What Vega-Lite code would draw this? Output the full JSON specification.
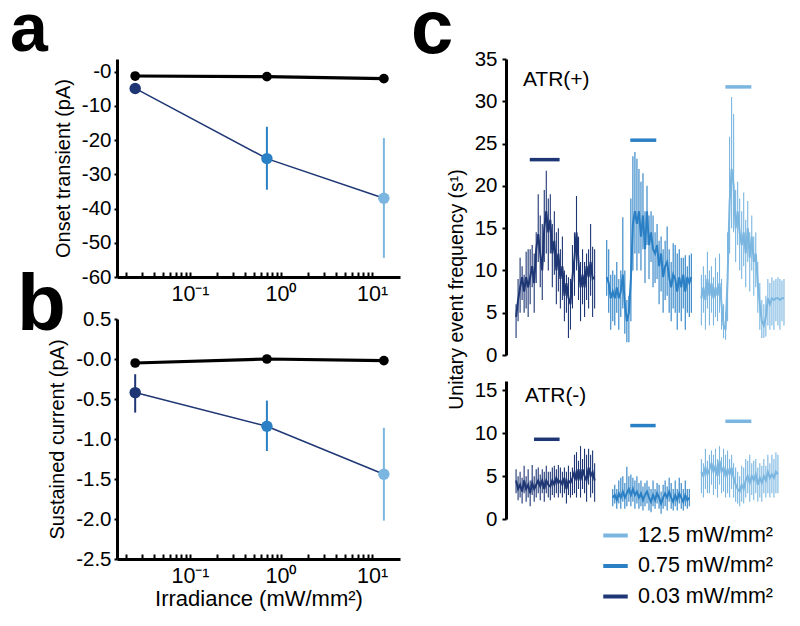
{
"$schema": "https://vega.github.io/schema/vega-lite/v6.json",
"padding": {"left": 10, "top": -8, "right": 5, "bottom": 5},
"background": "white",
"config": {
  "font": "Liberation Sans",
  "view": {"stroke": null},
  "axis": {"domainColor": "black", "domainWidth": 3, "tickColor": "black", "tickWidth": 2, "tickSize": 3, "labelFontSize": 20.5, "labelColor": "black", "titleFontSize": 20, "titleColor": "black", "titleFontWeight": "normal", "grid": false, "labelFont": "Liberation Sans", "titleFont": "Liberation Sans", "labelOverlap": false},
  "title": {"font": "Liberation Sans", "fontWeight": "bold", "anchor": "start", "frame": "group", "baseline": "alphabetic", "offset": 0, "color": "black"}
},
"datasets": {
  "ab": [
    {"p": "a", "g": "ctrl", "c": "ctrl", "irr": 0.025, "m": -1.27},
    {"p": "a", "g": "ctrl", "c": "ctrl", "irr": 0.7, "m": -1.46},
    {"p": "a", "g": "ctrl", "c": "ctrl", "irr": 13.5, "m": -2.05},
    {"p": "a", "g": "atr", "c": "0.03", "irr": 0.025, "m": -4.9, "lo": -5.5, "hi": -4.3},
    {"p": "a", "g": "atr", "c": "0.75", "irr": 0.7, "m": -25.4, "lo": -34.5, "hi": -16.1},
    {"p": "a", "g": "atr", "c": "12.5", "irr": 13.5, "m": -37.0, "lo": -54.4, "hi": -19.4},
    {"p": "b", "g": "ctrl", "c": "ctrl", "irr": 0.025, "m": -0.05},
    {"p": "b", "g": "ctrl", "c": "ctrl", "irr": 0.7, "m": 0.0},
    {"p": "b", "g": "ctrl", "c": "ctrl", "irr": 13.5, "m": -0.02},
    {"p": "b", "g": "atr", "c": "0.03", "irr": 0.025, "m": -0.42, "lo": -0.67, "hi": -0.19},
    {"p": "b", "g": "atr", "c": "0.75", "irr": 0.7, "m": -0.84, "lo": -1.15, "hi": -0.52},
    {"p": "b", "g": "atr", "c": "12.5", "irr": 13.5, "m": -1.44, "lo": -2.02, "hi": -0.86}
  ],
  "trace": [
    {"a":"p","c":"0.03","t":5,"m":4.5,"lo":2,"hi":6},
    {"a":"p","c":"0.03","t":6,"m":6.5,"lo":4,"hi":9},
    {"a":"p","c":"0.03","t":7,"m":8.0,"lo":5,"hi":11.5},
    {"a":"p","c":"0.03","t":8,"m":9.2,"lo":6.5,"hi":10.5},
    {"a":"p","c":"0.03","t":9,"m":7.5,"lo":5,"hi":9.5},
    {"a":"p","c":"0.03","t":10,"m":9.2,"lo":5.5,"hi":12.2},
    {"a":"p","c":"0.03","t":11,"m":8.0,"lo":4.5,"hi":12.5},
    {"a":"p","c":"0.03","t":12,"m":9.2,"lo":6,"hi":12.5},
    {"a":"p","c":"0.03","t":13,"m":10.5,"lo":8,"hi":13},
    {"a":"p","c":"0.03","t":14,"m":8.5,"lo":5,"hi":12},
    {"a":"p","c":"0.03","t":15,"m":12.5,"lo":8.5,"hi":14.5},
    {"a":"p","c":"0.03","t":16,"m":14.3,"lo":11,"hi":19},
    {"a":"p","c":"0.03","t":17,"m":12.0,"lo":8,"hi":16.5},
    {"a":"p","c":"0.03","t":18,"m":10.0,"lo":6.5,"hi":15.5},
    {"a":"p","c":"0.03","t":19,"m":15.0,"lo":11,"hi":19.5},
    {"a":"p","c":"0.03","t":20,"m":17.0,"lo":12,"hi":21.8},
    {"a":"p","c":"0.03","t":21,"m":14.5,"lo":10,"hi":18.5},
    {"a":"p","c":"0.03","t":22,"m":16.0,"lo":12,"hi":19},
    {"a":"p","c":"0.03","t":23,"m":12.0,"lo":8,"hi":15.5},
    {"a":"p","c":"0.03","t":24,"m":13.5,"lo":9.5,"hi":17},
    {"a":"p","c":"0.03","t":25,"m":10.0,"lo":6,"hi":14.5},
    {"a":"p","c":"0.03","t":26,"m":12.0,"lo":7.5,"hi":15},
    {"a":"p","c":"0.03","t":27,"m":9.0,"lo":5.5,"hi":12.5},
    {"a":"p","c":"0.03","t":28,"m":10.5,"lo":6.5,"hi":14},
    {"a":"p","c":"0.03","t":29,"m":7.0,"lo":4,"hi":10},
    {"a":"p","c":"0.03","t":30,"m":8.5,"lo":5,"hi":9.5},
    {"a":"p","c":"0.03","t":31,"m":6.8,"lo":2,"hi":9.2},
    {"a":"p","c":"0.03","t":32,"m":6.0,"lo":3,"hi":9},
    {"a":"p","c":"0.03","t":33,"m":9.2,"lo":5.5,"hi":13},
    {"a":"p","c":"0.03","t":34,"m":11.5,"lo":7,"hi":14.5},
    {"a":"p","c":"0.03","t":35,"m":14.5,"lo":10,"hi":18.8},
    {"a":"p","c":"0.03","t":36,"m":11.0,"lo":6.5,"hi":14},
    {"a":"p","c":"0.03","t":37,"m":8.0,"lo":4,"hi":11},
    {"a":"p","c":"0.03","t":38,"m":9.5,"lo":6,"hi":12.5},
    {"a":"p","c":"0.03","t":39,"m":8.0,"lo":4.5,"hi":11},
    {"a":"p","c":"0.03","t":40,"m":10.5,"lo":6.5,"hi":12},
    {"a":"p","c":"0.03","t":41,"m":9.2,"lo":5.5,"hi":12.5},
    {"a":"p","c":"0.03","t":42,"m":11.0,"lo":7,"hi":15.5},
    {"a":"p","c":"0.03","t":43,"m":9.0,"lo":4.5,"hi":12.8},
    {"a":"p","c":"0.03","t":44,"m":9.2,"lo":5.5,"hi":12.5},
    {"a":"p","c":"0.75","t":50,"m":9.2,"lo":7,"hi":13.6},
    {"a":"p","c":"0.75","t":51,"m":8.5,"lo":5,"hi":12.5},
    {"a":"p","c":"0.75","t":52,"m":6.7,"lo":3,"hi":9.5},
    {"a":"p","c":"0.75","t":53,"m":7.5,"lo":4,"hi":10},
    {"a":"p","c":"0.75","t":54,"m":6.7,"lo":3.5,"hi":9.5},
    {"a":"p","c":"0.75","t":55,"m":8.0,"lo":5,"hi":11},
    {"a":"p","c":"0.75","t":56,"m":6.7,"lo":3,"hi":9},
    {"a":"p","c":"0.75","t":57,"m":7.5,"lo":4.5,"hi":10},
    {"a":"p","c":"0.75","t":58,"m":9.5,"lo":5.5,"hi":16.3},
    {"a":"p","c":"0.75","t":59,"m":6.0,"lo":2.5,"hi":10},
    {"a":"p","c":"0.75","t":60,"m":4.0,"lo":1.5,"hi":6.5},
    {"a":"p","c":"0.75","t":61,"m":5.0,"lo":1.5,"hi":7},
    {"a":"p","c":"0.75","t":62,"m":9.0,"lo":4,"hi":18.5},
    {"a":"p","c":"0.75","t":63,"m":15.5,"lo":10,"hi":23.5},
    {"a":"p","c":"0.75","t":64,"m":17.0,"lo":12,"hi":24},
    {"a":"p","c":"0.75","t":65,"m":15.5,"lo":10,"hi":23.2},
    {"a":"p","c":"0.75","t":66,"m":17.0,"lo":12,"hi":22},
    {"a":"p","c":"0.75","t":67,"m":14.0,"lo":10,"hi":20.5},
    {"a":"p","c":"0.75","t":68,"m":16.5,"lo":12.5,"hi":21.5},
    {"a":"p","c":"0.75","t":69,"m":12.5,"lo":8.5,"hi":17},
    {"a":"p","c":"0.75","t":70,"m":17.0,"lo":13,"hi":20},
    {"a":"p","c":"0.75","t":71,"m":13.0,"lo":9,"hi":16.5},
    {"a":"p","c":"0.75","t":72,"m":14.5,"lo":11,"hi":17},
    {"a":"p","c":"0.75","t":73,"m":12.5,"lo":8,"hi":16.5},
    {"a":"p","c":"0.75","t":74,"m":12.0,"lo":8.5,"hi":14.5},
    {"a":"p","c":"0.75","t":75,"m":13.0,"lo":9,"hi":15.5},
    {"a":"p","c":"0.75","t":76,"m":10.5,"lo":6,"hi":13.5},
    {"a":"p","c":"0.75","t":77,"m":12.0,"lo":7.5,"hi":14},
    {"a":"p","c":"0.75","t":78,"m":9.2,"lo":5,"hi":12.5},
    {"a":"p","c":"0.75","t":79,"m":10.5,"lo":6.5,"hi":13.5},
    {"a":"p","c":"0.75","t":80,"m":11.0,"lo":7,"hi":15.2},
    {"a":"p","c":"0.75","t":81,"m":9.2,"lo":5,"hi":12.5},
    {"a":"p","c":"0.75","t":82,"m":8.0,"lo":4,"hi":11},
    {"a":"p","c":"0.75","t":83,"m":9.5,"lo":5.5,"hi":13.2},
    {"a":"p","c":"0.75","t":84,"m":9.0,"lo":5,"hi":13},
    {"a":"p","c":"0.75","t":85,"m":7.5,"lo":3,"hi":12},
    {"a":"p","c":"0.75","t":86,"m":9.2,"lo":5,"hi":12.5},
    {"a":"p","c":"0.75","t":87,"m":8.0,"lo":4,"hi":11.5},
    {"a":"p","c":"0.75","t":88,"m":9.5,"lo":5.5,"hi":11.5},
    {"a":"p","c":"0.75","t":89,"m":7.5,"lo":3,"hi":11.8},
    {"a":"p","c":"0.75","t":90,"m":9.2,"lo":5,"hi":10.5},
    {"a":"p","c":"0.75","t":91,"m":8.5,"lo":4.5,"hi":11.8},
    {"a":"p","c":"0.75","t":92,"m":9.2,"lo":5,"hi":12},
    {"a":"p","c":"12.5","t":97,"m":6.7,"lo":3.5,"hi":9.5},
    {"a":"p","c":"12.5","t":98,"m":8.0,"lo":5,"hi":10.5},
    {"a":"p","c":"12.5","t":99,"m":6.5,"lo":3,"hi":9.5},
    {"a":"p","c":"12.5","t":100,"m":9.0,"lo":5.5,"hi":12.2},
    {"a":"p","c":"12.5","t":101,"m":7.0,"lo":3.5,"hi":10},
    {"a":"p","c":"12.5","t":102,"m":8.5,"lo":5,"hi":10.5},
    {"a":"p","c":"12.5","t":103,"m":6.7,"lo":3.5,"hi":9.2},
    {"a":"p","c":"12.5","t":104,"m":8.0,"lo":4.5,"hi":11.5},
    {"a":"p","c":"12.5","t":105,"m":7.0,"lo":4,"hi":9.8},
    {"a":"p","c":"12.5","t":106,"m":8.5,"lo":5,"hi":12},
    {"a":"p","c":"12.5","t":107,"m":6.0,"lo":3,"hi":9},
    {"a":"p","c":"12.5","t":108,"m":3.5,"lo":2,"hi":6},
    {"a":"p","c":"12.5","t":109,"m":3.0,"lo":1.8,"hi":5},
    {"a":"p","c":"12.5","t":110,"m":9.0,"lo":4,"hi":14.5},
    {"a":"p","c":"12.5","t":111,"m":18.0,"lo":12,"hi":25.8},
    {"a":"p","c":"12.5","t":112,"m":22.0,"lo":15,"hi":30.5},
    {"a":"p","c":"12.5","t":113,"m":20.0,"lo":14.5,"hi":28.5},
    {"a":"p","c":"12.5","t":114,"m":15.0,"lo":11,"hi":19.5},
    {"a":"p","c":"12.5","t":115,"m":17.0,"lo":13,"hi":20.5},
    {"a":"p","c":"12.5","t":116,"m":14.5,"lo":10,"hi":18.5},
    {"a":"p","c":"12.5","t":117,"m":13.0,"lo":9,"hi":17},
    {"a":"p","c":"12.5","t":118,"m":14.5,"lo":10.5,"hi":19.2},
    {"a":"p","c":"12.5","t":119,"m":12.0,"lo":8,"hi":16},
    {"a":"p","c":"12.5","t":120,"m":15.0,"lo":11,"hi":18.2},
    {"a":"p","c":"12.5","t":121,"m":11.5,"lo":7.5,"hi":14.5},
    {"a":"p","c":"12.5","t":122,"m":14.0,"lo":10,"hi":16.5},
    {"a":"p","c":"12.5","t":123,"m":11.0,"lo":7,"hi":14},
    {"a":"p","c":"12.5","t":124,"m":12.0,"lo":8,"hi":14.5},
    {"a":"p","c":"12.5","t":125,"m":8.5,"lo":5,"hi":11},
    {"a":"p","c":"12.5","t":126,"m":6.0,"lo":3,"hi":8.5},
    {"a":"p","c":"12.5","t":127,"m":4.0,"lo":2,"hi":6.5},
    {"a":"p","c":"12.5","t":128,"m":3.5,"lo":2,"hi":6},
    {"a":"p","c":"12.5","t":129,"m":4.5,"lo":2.2,"hi":7},
    {"a":"p","c":"12.5","t":130,"m":6.7,"lo":3.5,"hi":9},
    {"a":"p","c":"12.5","t":131,"m":6.0,"lo":3,"hi":8.5},
    {"a":"p","c":"12.5","t":132,"m":6.7,"lo":3.5,"hi":9.2},
    {"a":"p","c":"12.5","t":133,"m":6.5,"lo":3,"hi":8.8},
    {"a":"p","c":"12.5","t":134,"m":6.7,"lo":4,"hi":9},
    {"a":"p","c":"12.5","t":135,"m":6.7,"lo":3.5,"hi":9.2},
    {"a":"p","c":"12.5","t":136,"m":6.5,"lo":3,"hi":9},
    {"a":"p","c":"12.5","t":137,"m":6.7,"lo":4,"hi":8.8},
    {"a":"p","c":"12.5","t":138,"m":6.7,"lo":3.5,"hi":9},
    {"a":"m","c":"0.03","t":5,"m":4.5,"lo":3,"hi":5.8},
    {"a":"m","c":"0.03","t":6,"m":3.5,"lo":2.2,"hi":5},
    {"a":"m","c":"0.03","t":7,"m":4.0,"lo":2.5,"hi":5.5},
    {"a":"m","c":"0.03","t":8,"m":3.2,"lo":1.8,"hi":4.8},
    {"a":"m","c":"0.03","t":9,"m":4.5,"lo":3,"hi":6.2},
    {"a":"m","c":"0.03","t":10,"m":3.5,"lo":2,"hi":5},
    {"a":"m","c":"0.03","t":11,"m":4.0,"lo":2.5,"hi":5.8},
    {"a":"m","c":"0.03","t":12,"m":3.0,"lo":1.5,"hi":4.5},
    {"a":"m","c":"0.03","t":13,"m":4.2,"lo":2.8,"hi":6.3},
    {"a":"m","c":"0.03","t":14,"m":3.5,"lo":2,"hi":5},
    {"a":"m","c":"0.03","t":15,"m":4.0,"lo":2.5,"hi":5.8},
    {"a":"m","c":"0.03","t":16,"m":4.5,"lo":3,"hi":6},
    {"a":"m","c":"0.03","t":17,"m":3.8,"lo":2.2,"hi":5.2},
    {"a":"m","c":"0.03","t":18,"m":4.5,"lo":3,"hi":5.8},
    {"a":"m","c":"0.03","t":19,"m":3.5,"lo":2,"hi":5.5},
    {"a":"m","c":"0.03","t":20,"m":4.5,"lo":3,"hi":6.2},
    {"a":"m","c":"0.03","t":21,"m":4.0,"lo":2.5,"hi":5.5},
    {"a":"m","c":"0.03","t":22,"m":3.8,"lo":2.2,"hi":5.5},
    {"a":"m","c":"0.03","t":23,"m":4.5,"lo":2.8,"hi":6},
    {"a":"m","c":"0.03","t":24,"m":4.0,"lo":2.5,"hi":6.2},
    {"a":"m","c":"0.03","t":25,"m":4.8,"lo":3,"hi":5.8},
    {"a":"m","c":"0.03","t":26,"m":4.2,"lo":2.5,"hi":6.3},
    {"a":"m","c":"0.03","t":27,"m":4.5,"lo":3,"hi":6},
    {"a":"m","c":"0.03","t":28,"m":4.0,"lo":2.5,"hi":5.5},
    {"a":"m","c":"0.03","t":29,"m":4.8,"lo":3,"hi":6},
    {"a":"m","c":"0.03","t":30,"m":3.5,"lo":1.8,"hi":5.5},
    {"a":"m","c":"0.03","t":31,"m":4.5,"lo":2.8,"hi":6.2},
    {"a":"m","c":"0.03","t":32,"m":4.2,"lo":2.5,"hi":5.5},
    {"a":"m","c":"0.03","t":33,"m":4.8,"lo":2.8,"hi":6},
    {"a":"m","c":"0.03","t":34,"m":5.5,"lo":3,"hi":7.5},
    {"a":"m","c":"0.03","t":35,"m":4.5,"lo":2.5,"hi":7.8},
    {"a":"m","c":"0.03","t":36,"m":5.8,"lo":3.5,"hi":6.8},
    {"a":"m","c":"0.03","t":37,"m":4.5,"lo":2.5,"hi":8.5},
    {"a":"m","c":"0.03","t":38,"m":5.8,"lo":3.5,"hi":7},
    {"a":"m","c":"0.03","t":39,"m":5.0,"lo":3,"hi":8.2},
    {"a":"m","c":"0.03","t":40,"m":4.5,"lo":2,"hi":7.5},
    {"a":"m","c":"0.03","t":41,"m":6.0,"lo":4,"hi":8.2},
    {"a":"m","c":"0.03","t":42,"m":5.0,"lo":2.5,"hi":7.5},
    {"a":"m","c":"0.03","t":43,"m":5.5,"lo":3,"hi":8},
    {"a":"m","c":"0.03","t":44,"m":4.5,"lo":2,"hi":6.5},
    {"a":"m","c":"0.75","t":53,"m":2.5,"lo":1.5,"hi":3.5},
    {"a":"m","c":"0.75","t":54,"m":2.8,"lo":1.8,"hi":4},
    {"a":"m","c":"0.75","t":55,"m":2.2,"lo":1.2,"hi":3.5},
    {"a":"m","c":"0.75","t":56,"m":3.0,"lo":1.8,"hi":4.5},
    {"a":"m","c":"0.75","t":57,"m":2.5,"lo":1.2,"hi":4.8},
    {"a":"m","c":"0.75","t":58,"m":3.2,"lo":2,"hi":5},
    {"a":"m","c":"0.75","t":59,"m":2.5,"lo":1.2,"hi":4.2},
    {"a":"m","c":"0.75","t":60,"m":3.0,"lo":1.5,"hi":6.1},
    {"a":"m","c":"0.75","t":61,"m":3.5,"lo":2,"hi":5},
    {"a":"m","c":"0.75","t":62,"m":2.8,"lo":1.5,"hi":5.2},
    {"a":"m","c":"0.75","t":63,"m":3.5,"lo":2,"hi":4.8},
    {"a":"m","c":"0.75","t":64,"m":2.8,"lo":1.2,"hi":4.5},
    {"a":"m","c":"0.75","t":65,"m":3.2,"lo":1.8,"hi":5},
    {"a":"m","c":"0.75","t":66,"m":2.5,"lo":1.2,"hi":4.2},
    {"a":"m","c":"0.75","t":67,"m":3.0,"lo":1.5,"hi":4.5},
    {"a":"m","c":"0.75","t":68,"m":2.2,"lo":1,"hi":3.8},
    {"a":"m","c":"0.75","t":69,"m":2.8,"lo":1.5,"hi":4.2},
    {"a":"m","c":"0.75","t":70,"m":3.2,"lo":1.8,"hi":4.5},
    {"a":"m","c":"0.75","t":71,"m":2.5,"lo":1,"hi":3.8},
    {"a":"m","c":"0.75","t":72,"m":2.0,"lo":0.8,"hi":3.5},
    {"a":"m","c":"0.75","t":73,"m":2.8,"lo":1.5,"hi":4.5},
    {"a":"m","c":"0.75","t":74,"m":2.2,"lo":1.2,"hi":3.5},
    {"a":"m","c":"0.75","t":75,"m":3.0,"lo":1.8,"hi":4.2},
    {"a":"m","c":"0.75","t":76,"m":2.5,"lo":1.2,"hi":4.0},
    {"a":"m","c":"0.75","t":77,"m":1.8,"lo":0.6,"hi":3.2},
    {"a":"m","c":"0.75","t":78,"m":2.5,"lo":1.2,"hi":4},
    {"a":"m","c":"0.75","t":79,"m":3.0,"lo":1.5,"hi":4.5},
    {"a":"m","c":"0.75","t":80,"m":2.5,"lo":1,"hi":3.8},
    {"a":"m","c":"0.75","t":81,"m":3.2,"lo":2,"hi":4.8},
    {"a":"m","c":"0.75","t":82,"m":2.5,"lo":1.2,"hi":4.2},
    {"a":"m","c":"0.75","t":83,"m":2.0,"lo":1,"hi":3.5},
    {"a":"m","c":"0.75","t":84,"m":2.8,"lo":1.5,"hi":4.5},
    {"a":"m","c":"0.75","t":85,"m":2.2,"lo":1,"hi":3.5},
    {"a":"m","c":"0.75","t":86,"m":3.0,"lo":1.8,"hi":4.8},
    {"a":"m","c":"0.75","t":87,"m":2.5,"lo":1.2,"hi":4.2},
    {"a":"m","c":"0.75","t":88,"m":2.0,"lo":1,"hi":3.5},
    {"a":"m","c":"0.75","t":89,"m":2.8,"lo":1.5,"hi":4.5},
    {"a":"m","c":"0.75","t":90,"m":2.2,"lo":1.2,"hi":3.5},
    {"a":"m","c":"0.75","t":91,"m":2.5,"lo":1.5,"hi":3.5},
    {"a":"m","c":"12.5","t":97,"m":5.5,"lo":3,"hi":7},
    {"a":"m","c":"12.5","t":98,"m":5.0,"lo":2.5,"hi":6.5},
    {"a":"m","c":"12.5","t":99,"m":6.0,"lo":3.5,"hi":8.2},
    {"a":"m","c":"12.5","t":100,"m":5.2,"lo":3,"hi":6.8},
    {"a":"m","c":"12.5","t":101,"m":5.8,"lo":3,"hi":7.5},
    {"a":"m","c":"12.5","t":102,"m":6.5,"lo":4,"hi":8},
    {"a":"m","c":"12.5","t":103,"m":5.5,"lo":2.8,"hi":7.5},
    {"a":"m","c":"12.5","t":104,"m":6.2,"lo":3.5,"hi":8.2},
    {"a":"m","c":"12.5","t":105,"m":5.0,"lo":2.5,"hi":7},
    {"a":"m","c":"12.5","t":106,"m":6.8,"lo":4,"hi":8.5},
    {"a":"m","c":"12.5","t":107,"m":5.5,"lo":3,"hi":7.2},
    {"a":"m","c":"12.5","t":108,"m":6.0,"lo":3.2,"hi":8.2},
    {"a":"m","c":"12.5","t":109,"m":5.0,"lo":2.5,"hi":7.5},
    {"a":"m","c":"12.5","t":110,"m":5.8,"lo":3,"hi":8},
    {"a":"m","c":"12.5","t":111,"m":5.2,"lo":2.5,"hi":7},
    {"a":"m","c":"12.5","t":112,"m":6.0,"lo":3.5,"hi":7.5},
    {"a":"m","c":"12.5","t":113,"m":4.8,"lo":2.5,"hi":6.5},
    {"a":"m","c":"12.5","t":114,"m":4.0,"lo":2,"hi":6},
    {"a":"m","c":"12.5","t":115,"m":3.5,"lo":1.8,"hi":5.5},
    {"a":"m","c":"12.5","t":116,"m":3.2,"lo":1.5,"hi":5},
    {"a":"m","c":"12.5","t":117,"m":4.0,"lo":2,"hi":6.2},
    {"a":"m","c":"12.5","t":118,"m":3.5,"lo":1.8,"hi":6},
    {"a":"m","c":"12.5","t":119,"m":4.5,"lo":2.5,"hi":7},
    {"a":"m","c":"12.5","t":120,"m":5.0,"lo":3,"hi":6.8},
    {"a":"m","c":"12.5","t":121,"m":4.2,"lo":2,"hi":7.5},
    {"a":"m","c":"12.5","t":122,"m":5.0,"lo":2.8,"hi":6.5},
    {"a":"m","c":"12.5","t":123,"m":4.5,"lo":2.2,"hi":6.8},
    {"a":"m","c":"12.5","t":124,"m":5.2,"lo":3,"hi":7},
    {"a":"m","c":"12.5","t":125,"m":4.0,"lo":2,"hi":6},
    {"a":"m","c":"12.5","t":126,"m":4.8,"lo":2.5,"hi":6.5},
    {"a":"m","c":"12.5","t":127,"m":4.2,"lo":2,"hi":6.2},
    {"a":"m","c":"12.5","t":128,"m":5.0,"lo":3,"hi":7},
    {"a":"m","c":"12.5","t":129,"m":4.5,"lo":2.5,"hi":6.2},
    {"a":"m","c":"12.5","t":130,"m":5.5,"lo":3,"hi":7.5},
    {"a":"m","c":"12.5","t":131,"m":4.8,"lo":2.5,"hi":6.5},
    {"a":"m","c":"12.5","t":132,"m":5.2,"lo":3,"hi":7.5},
    {"a":"m","c":"12.5","t":133,"m":4.8,"lo":2.5,"hi":7},
    {"a":"m","c":"12.5","t":134,"m":5.5,"lo":3,"hi":7.8},
    {"a":"m","c":"12.5","t":135,"m":5.2,"lo":3,"hi":7.5}
  ],
  "stim": [
    {"a":"p","c":"0.03","x1":11.8,"x2":26.6,"y":23.1},
    {"a":"p","c":"0.75","x1":61.7,"x2":74.6,"y":25.4},
    {"a":"p","c":"12.5","x1":108.9,"x2":121.8,"y":31.7},
    {"a":"m","c":"0.03","x1":13.9,"x2":26.6,"y":9.3},
    {"a":"m","c":"0.75","x1":61.7,"x2":74.3,"y":10.9},
    {"a":"m","c":"12.5","x1":108.9,"x2":121.8,"y":11.4}
  ],
  "labs": [
    {"a":"p","t":8.4,"y":31.8,"txt":"ATR(+)"},
    {"a":"m","t":9.4,"y":13.6,"txt":"ATR(-)"}
  ]
},
"hconcat": [
  {
    "vconcat": [
      {
        "width": 283, "height": 218,
        "title": {"text": "a", "fontSize": 68, "dx": -107, "dy": 9.5},
        "data": {"name": "ab"},
        "transform": [{"filter": "datum.p == 'a'"}],
        "encoding": {
          "x": {"field": "irr", "type": "quantitative", "scale": {"type": "log", "domain": [0.01578, 20.3], "nice": false},
                "axis": {"values": [0.02,0.03,0.04,0.05,0.06,0.07,0.08,0.09,0.1,0.2,0.3,0.4,0.5,0.6,0.7,0.8,0.9,1,2,3,4,5,6,7,8,9,10], "tickCount": 40,
                         "labelExpr": "datum.value == 0.1 ? '10⁻¹' : datum.value == 1 ? '10⁰' : datum.value == 10 ? '10¹' : ''",
                         "tickSize": -5, "labelPadding": 11, "labelFontSize": 21.5, "labelOverlap": false, "labelFlush": false, "labelBound": false, "title": null}},
          "color": {"field": "c", "type": "nominal", "scale": {"domain": ["ctrl","0.03","0.75","12.5"], "range": ["black","#1e3674","#2b80c5","#7ab6e0"]}, "legend": null}
        },
        "layer": [
          {"transform": [{"filter": "datum.g == 'ctrl'"}], "mark": {"type": "line", "strokeWidth": 3.2},
           "encoding": {"color": {"value": "black"}, "y": {"field": "m", "type": "quantitative", "scale": {"domain": [-60, 3.7], "nice": false, "zero": false},
             "axis": {"values": [0,-10,-20,-30,-40,-50,-60], "tickCount": 20, "labelExpr": "datum.value == 0 ? '-0' : '' + datum.value", "labelOverlap": false, "labelBound": false, "title": "Onset transient (pA)", "labelPadding": 3, "titlePadding": 8}}}},
          {"transform": [{"filter": "datum.g == 'atr'"}], "mark": {"type": "line", "strokeWidth": 1.5},
           "encoding": {"color": {"value": "#1e3674"}, "y": {"field": "m", "type": "quantitative"}}},
          {"transform": [{"filter": "datum.g == 'atr'"}], "mark": {"type": "rule", "strokeWidth": 2},
           "encoding": {"y": {"field": "lo", "type": "quantitative"}, "y2": {"field": "hi"}}},
          {"transform": [{"filter": "datum.g == 'atr'"}], "mark": {"type": "circle", "size": 130, "opacity": 1},
           "encoding": {"y": {"field": "m", "type": "quantitative"}}},
          {"transform": [{"filter": "datum.g == 'ctrl'"}], "mark": {"type": "circle", "size": 95, "opacity": 1},
           "encoding": {"y": {"field": "m", "type": "quantitative"}}}
        ]
      },
      {
        "width": 283, "height": 240,
        "title": {"text": "b", "fontSize": 80, "dx": -100, "dy": 41.5},
        "data": {"name": "ab"},
        "transform": [{"filter": "datum.p == 'b'"}],
        "encoding": {
          "x": {"field": "irr", "type": "quantitative", "scale": {"type": "log", "domain": [0.01578, 20.3], "nice": false},
                "axis": {"values": [0.02,0.03,0.04,0.05,0.06,0.07,0.08,0.09,0.1,0.2,0.3,0.4,0.5,0.6,0.7,0.8,0.9,1,2,3,4,5,6,7,8,9,10], "tickCount": 40,
                         "labelExpr": "datum.value == 0.1 ? '10⁻¹' : datum.value == 1 ? '10⁰' : datum.value == 10 ? '10¹' : ''",
                         "tickSize": -5, "labelPadding": 11, "labelFontSize": 21.5, "labelOverlap": false, "labelFlush": false, "labelBound": false, "title": "Irradiance (mW/mm²)", "titleFontSize": 22, "titlePadding": 2}},
          "color": {"field": "c", "type": "nominal", "scale": {"domain": ["ctrl","0.03","0.75","12.5"], "range": ["black","#1e3674","#2b80c5","#7ab6e0"]}, "legend": null}
        },
        "layer": [
          {"transform": [{"filter": "datum.g == 'ctrl'"}], "mark": {"type": "line", "strokeWidth": 3.2},
           "encoding": {"color": {"value": "black"}, "y": {"field": "m", "type": "quantitative", "scale": {"domain": [-2.5, 0.5], "nice": false, "zero": false},
             "axis": {"values": [0.5,0,-0.5,-1,-1.5,-2,-2.5], "tickCount": 20, "labelExpr": "datum.value == 0 ? '-0.0' : (datum.value % 1 == 0 ? datum.value + '.0' : '' + datum.value)", "labelOverlap": false, "labelBound": false, "title": "Sustained current (pA)", "labelPadding": 3, "titlePadding": 8}}}},
          {"transform": [{"filter": "datum.g == 'atr'"}], "mark": {"type": "line", "strokeWidth": 1.5},
           "encoding": {"color": {"value": "#1e3674"}, "y": {"field": "m", "type": "quantitative"}}},
          {"transform": [{"filter": "datum.g == 'atr'"}], "mark": {"type": "rule", "strokeWidth": 2},
           "encoding": {"y": {"field": "lo", "type": "quantitative"}, "y2": {"field": "hi"}}},
          {"transform": [{"filter": "datum.g == 'atr'"}], "mark": {"type": "circle", "size": 130, "opacity": 1},
           "encoding": {"y": {"field": "m", "type": "quantitative"}}},
          {"transform": [{"filter": "datum.g == 'ctrl'"}], "mark": {"type": "circle", "size": 95, "opacity": 1},
           "encoding": {"y": {"field": "m", "type": "quantitative"}}}
        ]
      }
    ],
    "spacing": 42,
    "bounds": "flush"
  },
  {
    "vconcat": [
      {
        "width": 282, "height": 296,
        "title": {"text": "c", "fontSize": 76, "dx": -95, "dy": 24.25},
        "encoding": {
          "color": {"field": "c", "type": "nominal", "scale": {"domain": ["0.03","0.75","12.5"], "range": ["#1e3674","#2b80c5","#7ab6e0"]}, "legend": null}
        },
        "layer": [
          {"data": {"name": "trace"}, "transform": [{"filter": "datum.a == 'p'"}], "mark": {"type": "rule", "strokeWidth": 1.1},
           "encoding": {"x": {"field": "t", "type": "quantitative", "scale": {"domain": [0, 140], "nice": false}, "axis": null},
                        "y": {"field": "lo", "type": "quantitative", "scale": {"domain": [0, 35], "nice": false},
                              "axis": {"values": [0,5,10,15,20,25,30,35], "tickCount": 20, "tickSize": 4, "labelPadding": 5, "labelFontSize": 20.5, "titleFontSize": 19.5, "title": "Unitary event frequency (s¹)", "titleY": 230, "titlePadding": 8}},
                        "y2": {"field": "hi"}}},
          {"data": {"name": "trace"}, "transform": [{"filter": "datum.a == 'p'"}], "mark": {"type": "line", "strokeWidth": 2},
           "encoding": {"x": {"field": "t", "type": "quantitative", "axis": null}, "y": {"field": "m", "type": "quantitative"}}},
          {"data": {"name": "stim"}, "transform": [{"filter": "datum.a == 'p'"}], "mark": {"type": "rule", "strokeWidth": 3.5},
           "encoding": {"x": {"field": "x1", "type": "quantitative", "axis": null}, "x2": {"field": "x2"}, "y": {"field": "y", "type": "quantitative"}}},
          {"data": {"name": "labs"}, "transform": [{"filter": "datum.a == 'p'"}], "mark": {"type": "text", "align": "left", "baseline": "alphabetic", "fontSize": 21},
           "encoding": {"x": {"field": "t", "type": "quantitative", "axis": null}, "y": {"field": "y", "type": "quantitative"}, "text": {"field": "txt"}, "color": {"value": "black"}}}
        ]
      },
      {
        "width": 282, "height": 138,
        "encoding": {
          "color": {"field": "c", "type": "nominal", "scale": {"domain": ["0.03","0.75","12.5"], "range": ["#1e3674","#2b80c5","#7ab6e0"]},
                    "legend": {"orient": "none", "legendX": 95, "legendY": 140, "values": ["12.5","0.75","0.03"], "labelExpr": "datum.label + ' mW/mm²'",
                               "symbolType": "stroke", "symbolStrokeWidth": 4, "symbolSize": 600, "labelFontSize": 21.5, "labelColor": "black", "labelOffset": 8, "rowPadding": 5.5, "title": null, "padding": 0}}
        },
        "layer": [
          {"data": {"name": "trace"}, "transform": [{"filter": "datum.a == 'm'"}], "mark": {"type": "rule", "strokeWidth": 1.1},
           "encoding": {"x": {"field": "t", "type": "quantitative", "scale": {"domain": [0, 140], "nice": false}, "axis": null},
                        "y": {"field": "lo", "type": "quantitative", "scale": {"domain": [0, 16.1], "nice": false},
                              "axis": {"values": [0,5,10,15], "tickCount": 20, "tickSize": 4, "labelPadding": 5, "labelFontSize": 20.5, "title": null}},
                        "y2": {"field": "hi"}}},
          {"data": {"name": "trace"}, "transform": [{"filter": "datum.a == 'm'"}], "mark": {"type": "line", "strokeWidth": 2},
           "encoding": {"x": {"field": "t", "type": "quantitative", "axis": null}, "y": {"field": "m", "type": "quantitative"}}},
          {"data": {"name": "stim"}, "transform": [{"filter": "datum.a == 'm'"}], "mark": {"type": "rule", "strokeWidth": 3.5},
           "encoding": {"x": {"field": "x1", "type": "quantitative", "axis": null}, "x2": {"field": "x2"}, "y": {"field": "y", "type": "quantitative"}}},
          {"data": {"name": "labs"}, "transform": [{"filter": "datum.a == 'm'"}], "mark": {"type": "text", "align": "left", "baseline": "alphabetic", "fontSize": 21},
           "encoding": {"x": {"field": "t", "type": "quantitative", "axis": null}, "y": {"field": "y", "type": "quantitative"}, "text": {"field": "txt"}, "color": {"value": "black"}}}
        ]
      }
    ],
    "spacing": 26,
    "bounds": "flush",
    "resolve": {"scale": {"color": "independent"}, "legend": {"color": "independent"}}
  }
],
"spacing": 11,
"resolve": {"scale": {"color": "independent"}, "legend": {"color": "independent"}}
}
